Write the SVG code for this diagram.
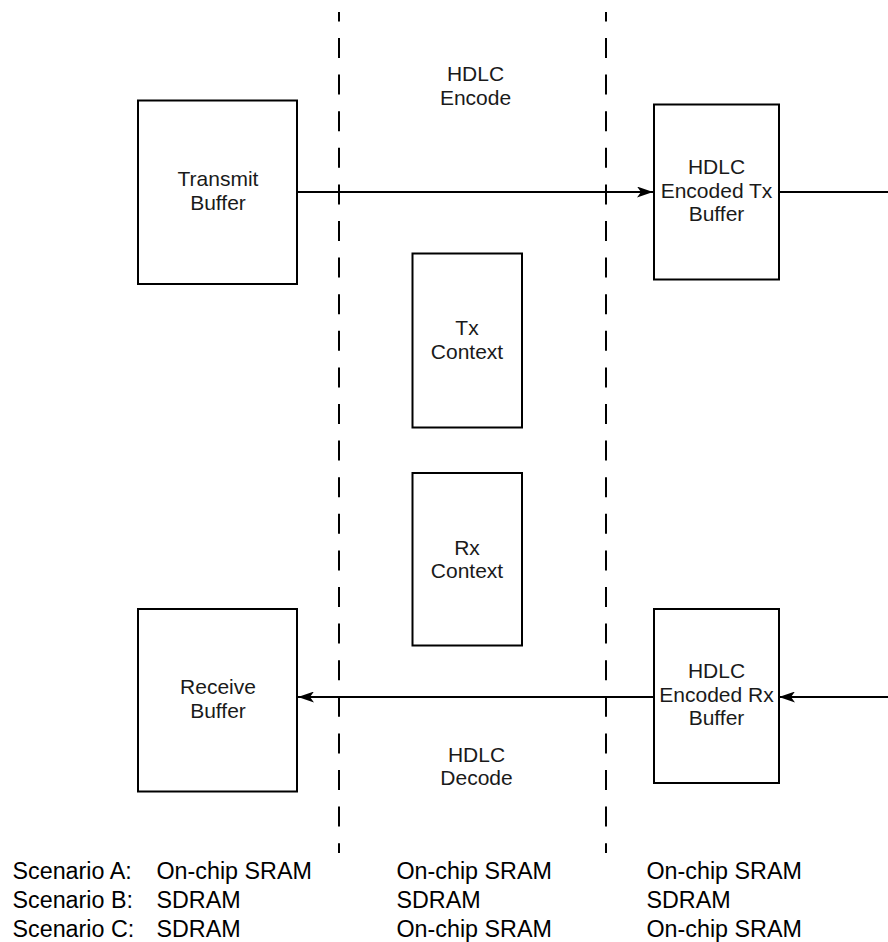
<svg xmlns="http://www.w3.org/2000/svg" width="888" height="942" viewBox="0 0 888 942">
<style>
.box{fill:#fff;stroke:#000;stroke-width:2}
.lbl{font-family:"Liberation Sans",Arial,sans-serif;font-size:21px;fill:#1a1a1a;text-anchor:middle}
.sc{font-family:"Liberation Sans",Arial,sans-serif;font-size:23.3px;fill:#000}
.conn{fill:none;stroke:#000;stroke-width:2}
.dash{fill:none;stroke:#000;stroke-width:2;stroke-dasharray:20 16.6;stroke-dashoffset:10.6}
</style>
<defs>
<marker id="arr" viewBox="0 0 16 11" refX="16" refY="5.5" markerWidth="16" markerHeight="11" markerUnits="userSpaceOnUse" orient="auto">
<path d="M0,0 L16,5.5 L0,11 L4,5.5 Z" fill="#000"/>
</marker>
</defs>
<rect width="888" height="942" fill="#fff"/>
<g id="boundaries">
<line class="dash" x1="339" y1="12" x2="339" y2="853"/>
<line class="dash" x1="606" y1="12" x2="606" y2="853"/>
</g>
<g id="region-labels">
<text class="lbl" x="475.5" y="81">HDLC</text>
<text class="lbl" x="475.5" y="104.5">Encode</text>
<text class="lbl" x="476.5" y="761.5">HDLC</text>
<text class="lbl" x="476.5" y="785">Decode</text>
</g>
<g id="connectors">
<path class="conn" d="M297,192 H653" marker-end="url(#arr)"/>
<path class="conn" d="M779,192 H888"/>
<path class="conn" d="M888,697 H779" marker-end="url(#arr)"/>
<path class="conn" d="M654,697 H298" marker-end="url(#arr)"/>
</g>
<g id="transmit-buffer">
<rect class="box" x="138" y="100.5" width="159" height="183.5"/>
<text class="lbl" x="218" y="186">Transmit</text>
<text class="lbl" x="218" y="209.5">Buffer</text>
</g>
<g id="encoded-tx-buffer">
<rect class="box" x="654" y="104.5" width="125" height="175"/>
<text class="lbl" x="716.5" y="173.5">HDLC</text>
<text class="lbl" x="716.5" y="197.5">Encoded Tx</text>
<text class="lbl" x="716.5" y="221">Buffer</text>
</g>
<g id="tx-context">
<rect class="box" x="412.5" y="253.5" width="109.5" height="174"/>
<text class="lbl" x="467" y="334.5">Tx</text>
<text class="lbl" x="467" y="358.5">Context</text>
</g>
<g id="rx-context">
<rect class="box" x="412.5" y="473" width="109.5" height="172.5"/>
<text class="lbl" x="467" y="554.5">Rx</text>
<text class="lbl" x="467" y="578">Context</text>
</g>
<g id="receive-buffer">
<rect class="box" x="138" y="609" width="159" height="182.5"/>
<text class="lbl" x="218" y="694">Receive</text>
<text class="lbl" x="218" y="717.5">Buffer</text>
</g>
<g id="encoded-rx-buffer">
<rect class="box" x="654" y="609" width="125" height="174"/>
<text class="lbl" x="716.5" y="678">HDLC</text>
<text class="lbl" x="716.5" y="702">Encoded Rx</text>
<text class="lbl" x="716.5" y="725">Buffer</text>
</g>
<g id="scenarios">
<text class="sc" x="12.5" y="878.5">Scenario A:</text>
<text class="sc" x="156.5" y="878.5">On-chip SRAM</text>
<text class="sc" x="396.5" y="878.5">On-chip SRAM</text>
<text class="sc" x="646.5" y="878.5">On-chip SRAM</text>
<text class="sc" x="12.5" y="908">Scenario B:</text>
<text class="sc" x="156.5" y="908">SDRAM</text>
<text class="sc" x="396.5" y="908">SDRAM</text>
<text class="sc" x="646.5" y="908">SDRAM</text>
<text class="sc" x="12.5" y="937">Scenario C:</text>
<text class="sc" x="156.5" y="937">SDRAM</text>
<text class="sc" x="396.5" y="937">On-chip SRAM</text>
<text class="sc" x="646.5" y="937">On-chip SRAM</text>
</g>
</svg>
